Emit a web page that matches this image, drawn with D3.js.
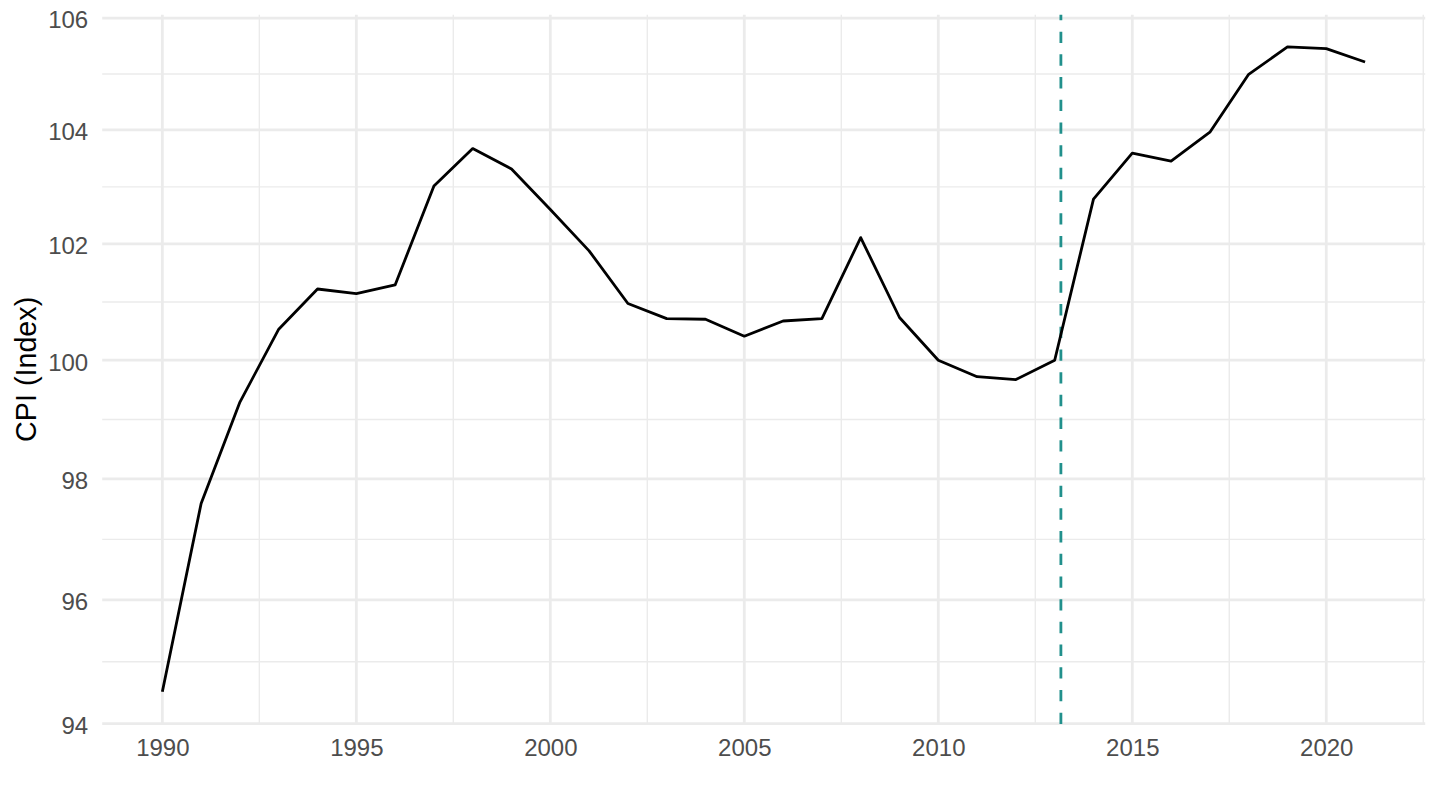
<!DOCTYPE html>
<html>
<head>
<meta charset="utf-8">
<script src="https://cdn.jsdelivr.net/npm/d3@7"></script>
<style>
  html, body { margin: 0; padding: 0; background: #fff; overflow: hidden; }
  svg { display: block; }
</style>
</head>
<body>
<div id="line-chart"></div>
<script>
// Data
const years = [1990, 1991, 1992, 1993, 1994, 1995, 1996, 1997, 1998, 1999,
               2000, 2001, 2002, 2003, 2004, 2005, 2006, 2007, 2008, 2009,
               2010, 2011, 2012, 2013, 2014, 2015, 2016, 2017, 2018, 2019,
               2020, 2021];
const cpi = [94.51, 97.59, 99.29, 100.53, 101.22, 101.14, 101.29, 103.01, 103.67, 103.31,
             102.60, 101.88, 100.97, 100.71, 100.70, 100.41, 100.67, 100.71, 102.11, 100.73,
             100.00, 99.72, 99.67, 100.00, 102.78, 103.59, 103.45, 103.96, 104.99, 105.48,
             105.45, 105.21];
const yTicks = [94, 96, 98, 100, 102, 104, 106];
const xTicks = [1990, 1995, 2000, 2005, 2010, 2015, 2020];
const xMinorTicks = [1992.5, 1997.5, 2002.5, 2007.5, 2012.5, 2017.5, 2022.5];
const breakYear = 2013.16;
const yTitle = "CPI (Index)";

const data = years.map((y, i) => ({year: y, value: cpi[i]}));

/*******************************/
/*    Declare the constants    */
/*******************************/
const width = 1440;
const height = 810;
const margin = {top: 14.7, right: 14.8, bottom: 86, left: 102.2};
const innerWidth = width - margin.left - margin.right;
const innerHeight = height - margin.top - margin.bottom;
const gridColour = "#ebebeb";
const lineColour = "#000000";
const breakColour = "#21908c";
const fontFamily = "'Liberation Sans', Arial, Helvetica, sans-serif";

/*******************************/
/*    Append the containers    */
/*******************************/
const svg = d3.select("#line-chart")
  .append("svg")
    .attr("width", width)
    .attr("height", height)
    .attr("viewBox", `0 0 ${width} ${height}`);

const innerChart = svg
  .append("g")
    .attr("transform", `translate(${margin.left}, ${margin.top})`);

/****************************/
/*    Declare the scales    */
/****************************/
// x: continuous years with ggplot's 5% expansion
const [xMin, xMax] = d3.extent(years);
const xPad = (xMax - xMin) * 0.05;
const xScale = d3.scaleLinear()
  .domain([xMin - xPad, xMax + xPad])
  .range([0, innerWidth]);

// y: log10 scale, expanded 5% in log space
const [vMin, vMax] = d3.extent(cpi);
const logPad = (Math.log(vMax) - Math.log(vMin)) * 0.05;
const yScale = d3.scaleLog()
  .domain([vMin * Math.exp(-logPad), vMax * Math.exp(logPad)])
  .range([innerHeight, 0]);

// minor y breaks sit half way between the majors in log space
const yMinorTicks = d3.pairs(yTicks).map(([a, b]) => Math.sqrt(a * b));

/***************************/
/*       Grid lines        */
/***************************/
const grid = innerChart.append("g").attr("class", "grid");

// minor lines first, majors on top
grid.selectAll(".minor-y")
  .data(yMinorTicks)
  .join("line")
    .attr("class", "minor-y")
    .attr("x1", 0)
    .attr("x2", innerWidth)
    .attr("y1", d => yScale(d))
    .attr("y2", d => yScale(d))
    .attr("stroke", gridColour)
    .attr("stroke-width", 1.4);

grid.selectAll(".minor-x")
  .data(xMinorTicks)
  .join("line")
    .attr("class", "minor-x")
    .attr("x1", d => xScale(d))
    .attr("x2", d => xScale(d))
    .attr("y1", 0)
    .attr("y2", innerHeight)
    .attr("stroke", gridColour)
    .attr("stroke-width", 1.4);

grid.selectAll(".major-y")
  .data(yTicks)
  .join("line")
    .attr("class", "major-y")
    .attr("x1", 0)
    .attr("x2", innerWidth)
    .attr("y1", d => yScale(d))
    .attr("y2", d => yScale(d))
    .attr("stroke", gridColour)
    .attr("stroke-width", 2.8);

grid.selectAll(".major-x")
  .data(xTicks)
  .join("line")
    .attr("class", "major-x")
    .attr("x1", d => xScale(d))
    .attr("x2", d => xScale(d))
    .attr("y1", 0)
    .attr("y2", innerHeight)
    .attr("stroke", gridColour)
    .attr("stroke-width", 2.8);

/***************************/
/*     Append the axes     */
/***************************/
const leftAxis = d3.axisLeft(yScale)
  .tickValues(yTicks)
  .tickSize(0)
  .tickPadding(14)
  .tickFormat(d3.format("d"));
innerChart.append("g")
    .attr("class", "axis-y")
    .call(leftAxis)
    .call(g => g.select(".domain").remove());
d3.selectAll(".axis-y text")
  .attr("dy", "0.41em");

const bottomAxis = d3.axisBottom(xScale)
  .tickValues(xTicks)
  .tickSize(0)
  .tickPadding(15)
  .tickFormat(d3.format("d"));
innerChart.append("g")
    .attr("class", "axis-x")
    .attr("transform", `translate(0, ${innerHeight})`)
    .call(bottomAxis)
    .call(g => g.select(".domain").remove());

d3.selectAll(".axis-x, .axis-y")
  .attr("font-size", null)
  .attr("font-family", null);
d3.selectAll(".axis-x text, .axis-y text")
  .style("font-family", fontFamily)
  .style("font-size", "24px")
  .attr("fill", "#4d4d4d");

// y title
svg.append("text")
    .text(yTitle)
    .attr("transform", `translate(36, ${margin.top + innerHeight / 2}) rotate(-90)`)
    .attr("text-anchor", "middle")
    .style("font-family", fontFamily)
    .style("font-size", "28.7px")
    .attr("fill", "#000000");

/***************************************/
/*        Vertical break marker        */
/***************************************/
innerChart.append("line")
    .attr("x1", xScale(breakYear))
    .attr("x2", xScale(breakYear))
    .attr("y1", innerHeight)
    .attr("y2", 0)
    .attr("stroke", breakColour)
    .attr("stroke-width", 2.8)
    .attr("stroke-dasharray", "11.35 11.35");

/***********************************/
/*         CPI line chart          */
/***********************************/
const lineGenerator = d3.line()
  .x(d => xScale(d.year))
  .y(d => yScale(d.value));

innerChart.append("path")
    .attr("d", lineGenerator(data))
    .attr("fill", "none")
    .attr("stroke", lineColour)
    .attr("stroke-width", 2.8)
    .attr("stroke-linejoin", "round");
</script>
</body>
</html>
